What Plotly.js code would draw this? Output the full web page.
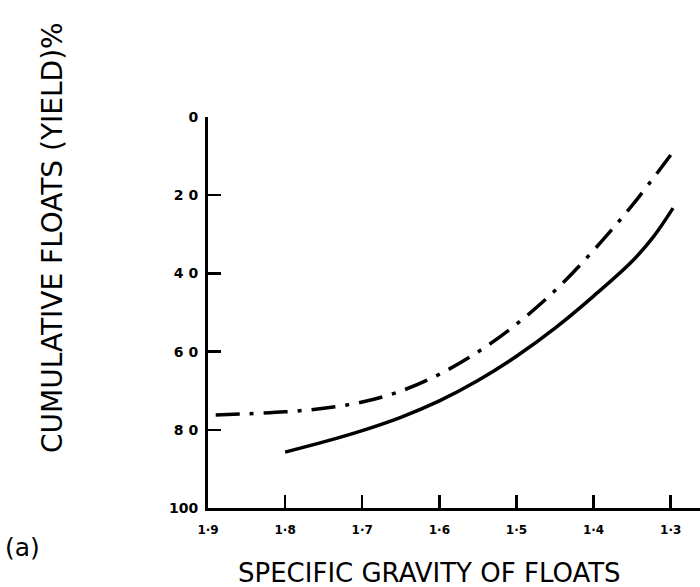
<!DOCTYPE html>
<html>
<head>
<meta charset="utf-8">
<script src="https://cdn.plot.ly/plotly-3.0.1.min.js"></script>
<style>html,body{margin:0;padding:0;background:#fff;}#chart{width:700px;height:587px;}</style>
</head>
<body>
<div id="chart"></div>
<script>
// Specific gravity (x) and cumulative floats yield % (y)
const solidSG = [1.80, 1.75, 1.70, 1.65, 1.60, 1.55, 1.50, 1.45, 1.40, 1.35, 1.323, 1.297];
const solidYield = [85.7, 83.1, 80.2, 76.8, 72.6, 67.4, 61.2, 54.0, 45.8, 36.9, 30.8, 23.3];
const dashSG = [1.89, 1.85, 1.80, 1.75, 1.70, 1.65, 1.60, 1.55, 1.50, 1.45, 1.40, 1.35, 1.30];
const dashYield = [76.2, 75.9, 75.4, 74.5, 72.9, 70.1, 65.8, 60.1, 53.0, 44.4, 34.1, 22.6, 9.7];
const xTickVals = [1.9, 1.8, 1.7, 1.6, 1.5, 1.4, 1.3];
const xTickText = ['1·9', '1·8', '1·7', '1·6', '1·5', '1·4', '1·3'];
const yTickVals = [0, 20, 40, 60, 80, 100];
const yTickText = ['0', '2 0', '4 0', '6 0', '8 0', '100'];

const traces = [
  {x: solidSG, y: solidYield, mode: 'lines', type: 'scatter', line: {color: '#000', width: 3.5, shape: 'spline', smoothing: 1}, showlegend: false},
  {x: dashSG, y: dashYield, mode: 'lines', type: 'scatter', line: {color: '#000', width: 3.5, shape: 'spline', dash: '24px,10px,4px,10px'}, showlegend: false}
];

const plotW = 700 - 208, plotH = 587 - 117 - 79;
const layout = {
  width: 700, height: 587,
  margin: {l: 208, r: 0, t: 117, b: 79},
  paper_bgcolor: '#fff', plot_bgcolor: '#fff',
  font: {family: 'DejaVu Sans', color: '#000'},
  xaxis: {
    range: [1.9, 1.262], showgrid: false, zeroline: false,
    showline: true, linecolor: '#000', linewidth: 3,
    ticks: 'inside', ticklen: 13, tickwidth: 2.5, tickcolor: '#000',
    tickvals: xTickVals, ticktext: xTickText,
    tickfont: {size: 12, family: 'DejaVu Sans', weight: 'bold'},
    ticklabelstandoff: 9,
    title: {text: ''}
  },
  yaxis: {
    range: [100, 0], showgrid: false, zeroline: false,
    showline: true, linecolor: '#000', linewidth: 3,
    ticks: 'inside', ticklen: 13, tickwidth: 2.5, tickcolor: '#000',
    tickvals: yTickVals, ticktext: yTickText,
    tickfont: {size: 14, family: 'DejaVu Sans', weight: 'bold'},
    ticklabelstandoff: 4,
    title: {text: ''}
  },
  annotations: [
    {text: 'SPECIFIC GRAVITY OF FLOATS', xref: 'paper', yref: 'paper',
     x: (429 - 208) / plotW, y: -(573 - 508) / plotH,
     xanchor: 'center', yanchor: 'middle', showarrow: false, font: {size: 26, family: 'DejaVu Sans'}},
    {text: 'CUMULATIVE FLOATS (YIELD)%', xref: 'paper', yref: 'paper',
     x: (52 - 208) / plotW, y: (508 - 238) / plotH, textangle: -90,
     xanchor: 'center', yanchor: 'middle', showarrow: false, font: {size: 28, family: 'DejaVu Sans'}},
    {text: '(a)', xref: 'paper', yref: 'paper',
     x: (22 - 208) / plotW, y: -(547 - 508) / plotH,
     xanchor: 'center', yanchor: 'middle', showarrow: false, font: {size: 25, family: 'DejaVu Sans'}}
  ]
};

Plotly.newPlot('chart', traces, layout, {displayModeBar: false, staticPlot: true});
</script>
</body>
</html>
